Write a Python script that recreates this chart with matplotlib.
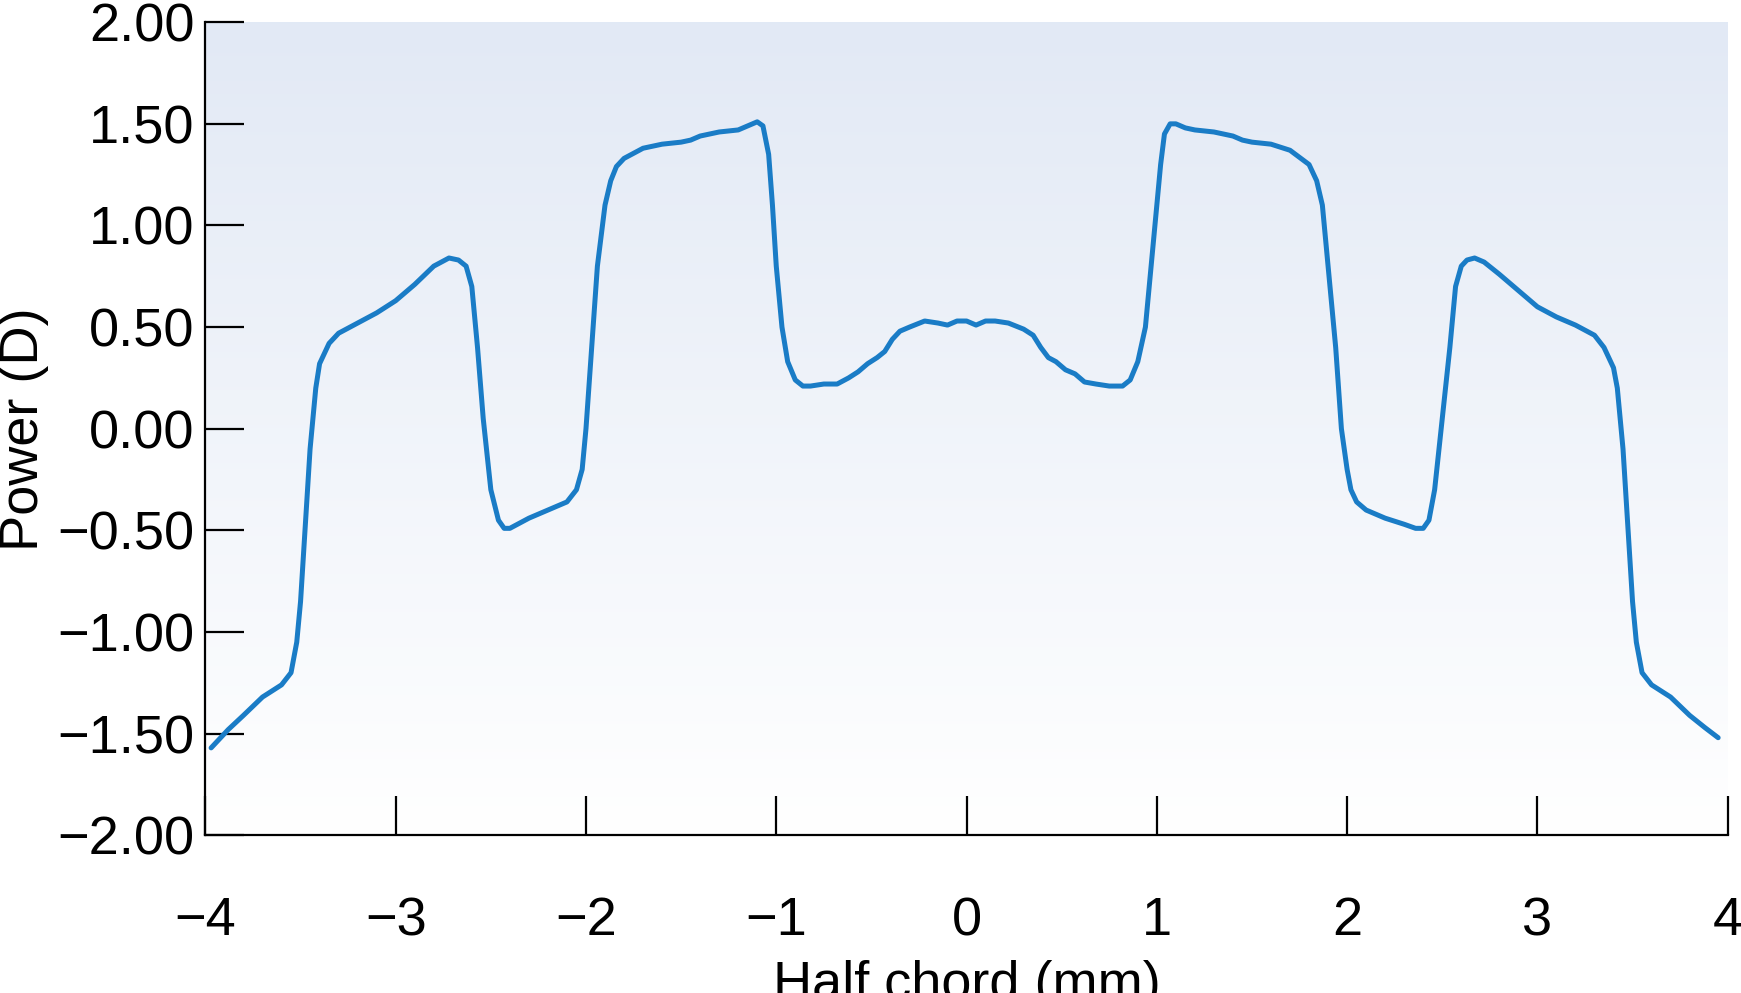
import numpy as np
import matplotlib
matplotlib.use("Agg")
import matplotlib.pyplot as plt

x_left = [-3.97,-3.88,-3.8,-3.7,-3.6,-3.55,-3.52,-3.5,-3.47,-3.45,-3.42,-3.4,-3.35,-3.3,-3.2,-3.1,-3.0,-2.9,-2.8,-2.72,-2.67,-2.63,-2.6,-2.57,-2.54,-2.5,-2.46,-2.43,-2.4,-2.36,-2.3,-2.2,-2.1,-2.05,-2.02,-2.0,-1.97,-1.94,-1.9,-1.87,-1.84,-1.8,-1.7,-1.6,-1.5,-1.45,-1.4,-1.3,-1.2,-1.15,-1.1,-1.07,-1.04,-1.02,-1.0,-0.97,-0.94,-0.9,-0.86,-0.82,-0.75,-0.68,-0.62,-0.57,-0.52,-0.47,-0.43,-0.39,-0.35,-0.3,-0.22,-0.15,-0.1,-0.05]
y_left = [-1.57,-1.48,-1.41,-1.32,-1.26,-1.2,-1.05,-0.85,-0.4,-0.1,0.2,0.32,0.42,0.47,0.52,0.57,0.63,0.71,0.8,0.84,0.83,0.8,0.7,0.4,0.05,-0.3,-0.45,-0.49,-0.49,-0.47,-0.44,-0.40,-0.36,-0.3,-0.2,0.0,0.4,0.8,1.1,1.22,1.29,1.33,1.38,1.40,1.41,1.42,1.44,1.46,1.47,1.49,1.51,1.49,1.35,1.1,0.8,0.5,0.33,0.24,0.21,0.21,0.22,0.22,0.25,0.28,0.32,0.35,0.38,0.44,0.48,0.50,0.53,0.52,0.51,0.53]
x_right = [0.0,0.05,0.1,0.15,0.22,0.3,0.35,0.39,0.43,0.47,0.52,0.57,0.62,0.68,0.75,0.82,0.86,0.9,0.94,0.97,1.0,1.02,1.04,1.07,1.1,1.15,1.2,1.3,1.4,1.45,1.5,1.6,1.7,1.8,1.84,1.87,1.9,1.94,1.97,2.0,2.02,2.05,2.1,2.2,2.3,2.36,2.4,2.43,2.46,2.5,2.54,2.57,2.6,2.63,2.67,2.72,2.8,2.9,3.0,3.1,3.2,3.3,3.35,3.4,3.42,3.45,3.47,3.5,3.52,3.55,3.6,3.7,3.8,3.88,3.95]
y_right = [0.53,0.51,0.53,0.53,0.52,0.49,0.46,0.40,0.35,0.33,0.29,0.27,0.23,0.22,0.21,0.21,0.24,0.33,0.5,0.8,1.1,1.3,1.45,1.50,1.50,1.48,1.47,1.46,1.44,1.42,1.41,1.40,1.37,1.30,1.22,1.1,0.8,0.4,0.0,-0.2,-0.3,-0.36,-0.40,-0.44,-0.47,-0.49,-0.49,-0.45,-0.3,0.05,0.4,0.7,0.8,0.83,0.84,0.82,0.76,0.68,0.60,0.55,0.51,0.46,0.4,0.3,0.2,-0.1,-0.4,-0.85,-1.05,-1.2,-1.26,-1.32,-1.41,-1.47,-1.52]

x_ticks = [-4,-3,-2,-1,0,1,2,3,4]
y_ticks = [-2.0,-1.5,-1.0,-0.5,0.0,0.5,1.0,1.5,2.0]

plt.rcParams['font.family'] = ['Liberation Sans Narrow', 'Liberation Sans', 'DejaVu Sans']
W, H = 1568, 894
fig = plt.figure(figsize=(17.41, 9.93), dpi=100)
ax = fig.add_axes([185/W, 1-752/H, (1556-185)/W, (752-20)/H])

grad = np.linspace(1, 0, 256).reshape(-1, 1)
top = np.array([0.886, 0.914, 0.961]); bot = np.array([1.0, 1.0, 1.0])
img = bot + (top - bot) * grad[..., None]
ax.imshow(img, extent=[-4, 4, -2, 2], aspect='auto', zorder=0)

ax.plot(x_left + x_right, y_left + y_right, color='#1a7cc6', lw=3.6, zorder=3,
        solid_capstyle='round', solid_joinstyle='round')

ax.set_xlim(-4, 4); ax.set_ylim(-2, 2)
ax.spines['top'].set_visible(False); ax.spines['right'].set_visible(False)
for s in ('left', 'bottom'):
    ax.spines[s].set_linewidth(1.6)
ax.set_xticks(x_ticks)
ax.set_xticklabels([str(t).replace('-', '\u2212') for t in x_ticks])
ax.set_yticks(y_ticks)
ax.set_yticklabels([f"{t:.2f}".replace('-', '\u2212') for t in y_ticks])
ax.tick_params(axis='both', direction='in', length=28, width=1.6, labelsize=39, pad=8)
ax.tick_params(axis='x', pad=44)
ax.set_xlabel('Half chord (mm)', fontsize=39, labelpad=10)
ax.set_ylabel('Power (D)', fontsize=39, labelpad=6)
fig.savefig('out.png', dpi=100)
